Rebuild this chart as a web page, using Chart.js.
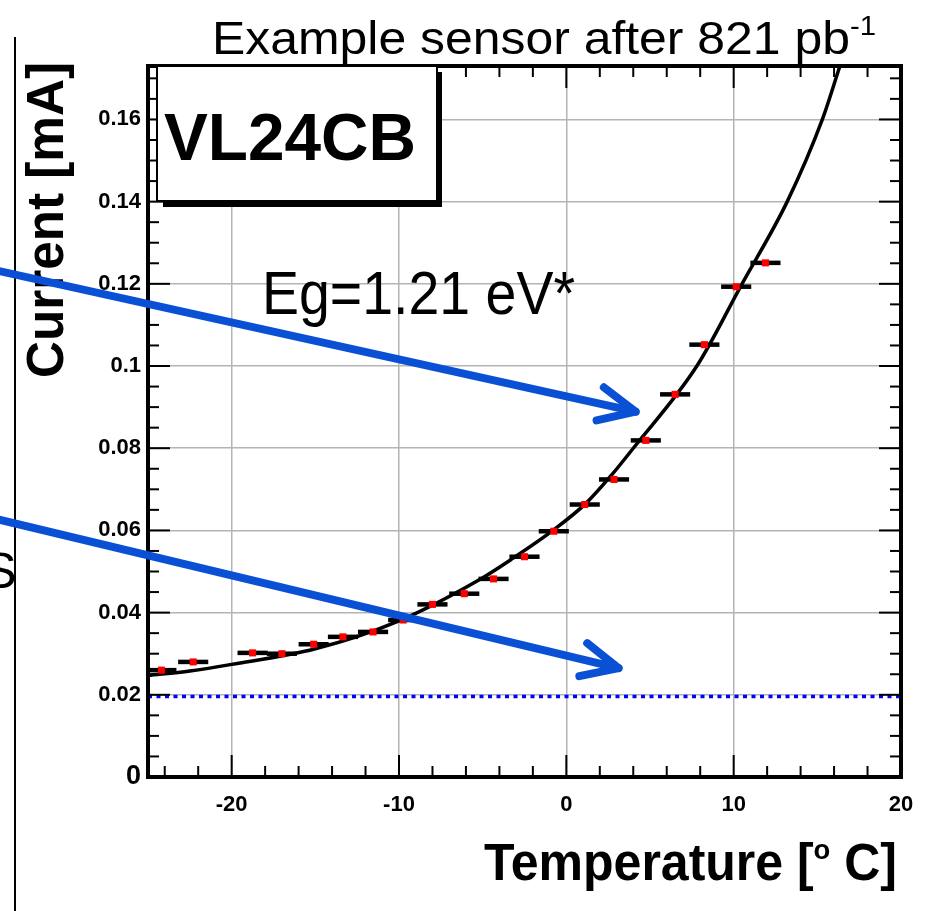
<!DOCTYPE html>
<html><head><meta charset="utf-8">
<script src="https://cdn.jsdelivr.net/npm/chart.js@4/dist/chart.umd.min.js"></script>
<style>html,body{margin:0;padding:0;background:#fff;}canvas{display:block;}</style>
</head><body>
<canvas id="c" width="930" height="911"></canvas>
<script>
// ---- data ----
const temperature = [-24.2, -22.3, -18.75, -17.0, -15.1, -13.35, -11.55, -9.75, -8.0, -6.1, -4.35, -2.5, -0.75, 1.1, 2.85, 4.75, 6.5, 8.25, 10.15, 11.9];
const current     = [0.0260, 0.0280, 0.0302, 0.0300, 0.0323, 0.0341, 0.0353, 0.0382, 0.0420, 0.0446, 0.0482, 0.0536, 0.0598, 0.0663, 0.0724, 0.0819, 0.0931, 0.1052, 0.1193, 0.1251];
const temperatureErr = [0.9, 0.9, 0.9, 0.9, 0.9, 0.9, 0.9, 0.9, 0.9, 0.9, 0.9, 0.9, 0.9, 0.9, 0.9, 0.9, 0.9, 0.9, 0.9, 0.9];
const fitTemperature = [-25, -22.5, -20, -15, -10, -5.2, -3.2, -0.8, 1.2, 2.75, 4.0, 7.8, 10.5, 13.2, 15.3, 16.35];
const fitCurrent     = [0.0247, 0.0258, 0.0274, 0.0312, 0.0380, 0.0480, 0.0532, 0.0600, 0.0667, 0.0737, 0.0800, 0.1000, 0.1200, 0.1400, 0.1600, 0.1730];
const baselineCurrent = 0.0196;
const xTickLabels = ['-20', '-10', '0', '10', '20'];
const yTickLabels = ['0', '0.02', '0.04', '0.06', '0.08', '0.1', '0.12', '0.14', '0.16'];
const arrowUpper = [[-34, 0.1232], [4.14, 0.0889]];
const arrowLower = [[-34, 0.0627], [3.12, 0.0265]];
const titleText = 'Example sensor after 821 pb';
const titleSup = '-1';
const labelText = 'VL24CB';
const gapText = 'Eg=1.21 eV*';
const xTitle = ['Temperature [', 'o', ' C]'];
const yTitle = 'Current [mA]';

const FONT = '"Liberation Sans", Arial, Helvetica, sans-serif';
const BLUE = '#0a50d4';

function drawRuns(ctx, runs, left, baseline, targetWidth) {
  let total = 0;
  runs.forEach(r => { ctx.font = r.font; r.w = ctx.measureText(r.text).width; total += r.w; });
  const s = targetWidth ? targetWidth / total : 1;
  ctx.save();
  ctx.translate(left, baseline);
  ctx.scale(s, 1);
  ctx.textBaseline = 'alphabetic';
  ctx.textAlign = 'left';
  let x = 0;
  runs.forEach(r => { ctx.font = r.font; ctx.fillText(r.text, x, r.dy || 0); x += r.w; });
  ctx.restore();
}

function drawArrow(ctx, chart, pts) {
  const xs = chart.scales.x, ys = chart.scales.y;
  const x0 = xs.getPixelForValue(pts[0][0]), y0 = ys.getPixelForValue(pts[0][1]);
  const x1 = xs.getPixelForValue(pts[1][0]), y1 = ys.getPixelForValue(pts[1][1]);
  const ang = Math.atan2(y1 - y0, x1 - x0);
  const L = 40, spread = 25 * Math.PI / 180;
  ctx.save();
  ctx.strokeStyle = BLUE; ctx.lineWidth = 8; ctx.lineCap = 'round'; ctx.lineJoin = 'round';
  ctx.beginPath(); ctx.moveTo(x0, y0); ctx.lineTo(x1, y1); ctx.stroke();
  ctx.beginPath();
  ctx.moveTo(x1 - L * Math.cos(ang - spread), y1 - L * Math.sin(ang - spread));
  ctx.lineTo(x1, y1);
  ctx.lineTo(x1 - L * Math.cos(ang + spread), y1 - L * Math.sin(ang + spread));
  ctx.stroke();
  ctx.restore();
}

const rootPlugin = {
  id: 'rootStyle',
  beforeDatasetsDraw(chart) {
    const ctx = chart.ctx, a = chart.chartArea, xs = chart.scales.x, ys = chart.scales.y;
    ctx.save();
    ctx.beginPath(); ctx.rect(a.left, a.top, a.right - a.left, a.bottom - a.top); ctx.clip();
    ctx.strokeStyle = '#000'; ctx.lineWidth = 4.5;
    temperature.forEach((t, i) => {
      const y = ys.getPixelForValue(current[i]);
      ctx.beginPath();
      ctx.moveTo(xs.getPixelForValue(t - temperatureErr[i]), y);
      ctx.lineTo(xs.getPixelForValue(t + temperatureErr[i]), y);
      ctx.stroke();
    });
    ctx.restore();
  },
  afterDraw(chart) {
    const ctx = chart.ctx, a = chart.chartArea, xs = chart.scales.x, ys = chart.scales.y;
    ctx.save();
    // tick marks inside on all four sides
    ctx.strokeStyle = '#000'; ctx.lineWidth = 2;
    const line = (x0, y0, x1, y1) => { ctx.beginPath(); ctx.moveTo(x0, y0); ctx.lineTo(x1, y1); ctx.stroke(); };
    for (let i = 0; i <= 22; i++) {
      const v = -24 + 2 * i;
      const px = xs.getPixelForValue(v);
      const len = (v % 10 === 0) ? 22 : 11;
      line(px, a.bottom, px, a.bottom - len);
      line(px, a.top, px, a.top + len);
    }
    for (let i = 0; i <= 34; i++) {
      const py = ys.getPixelForValue(i * 0.005);
      const len = (i % 4 === 0) ? 22 : 11;
      line(a.left, py, a.left + len, py);
      line(a.right, py, a.right - len, py);
    }
    // frame
    ctx.lineWidth = 4;
    ctx.strokeRect(a.left, a.top, a.right - a.left, a.bottom - a.top);

    // label box with shadow
    ctx.fillStyle = '#000';
    ctx.fillRect(163, 72, 279, 135);
    ctx.fillStyle = '#fff';
    ctx.fillRect(157, 66, 280, 135);
    ctx.lineWidth = 2; ctx.strokeStyle = '#000';
    ctx.strokeRect(157, 66, 280, 135);
    ctx.fillStyle = '#000';
    drawRuns(ctx, [{text: labelText, font: 'bold 66px ' + FONT}], 164, 160, 252);

    // title
    drawRuns(ctx, [
      {text: titleText, font: '46px ' + FONT},
      {text: titleSup, font: '27px ' + FONT, dy: -19}
    ], 212, 54, 664);

    // band-gap annotation
    drawRuns(ctx, [{text: gapText, font: '62px ' + FONT}], 262, 314, 313);

    // axis titles
    drawRuns(ctx, [
      {text: xTitle[0], font: 'bold 51px ' + FONT},
      {text: xTitle[1], font: 'bold 28px ' + FONT, dy: -21},
      {text: xTitle[2], font: 'bold 51px ' + FONT}
    ], 484, 880, 413);
    ctx.save();
    ctx.translate(63, 378);
    ctx.rotate(-Math.PI / 2);
    drawRuns(ctx, [{text: yTitle, font: 'bold 51px ' + FONT}], 0, 0, 316);
    ctx.restore();

    // slide fragments on the left
    ctx.font = '50px ' + FONT;
    const sw = ctx.measureText('S').width;
    ctx.fillText('S', 15 - sw * 0.95, 588);
    ctx.lineWidth = 2;
    line(15, 37, 15, 911);

    // arrows
    drawArrow(ctx, chart, arrowUpper);
    drawArrow(ctx, chart, arrowLower);
    ctx.restore();
  }
};

const tickFont = {family: FONT, weight: 'bold', size: 22};
new Chart(document.getElementById('c').getContext('2d'), {
  type: 'scatter',
  data: {
    datasets: [
      {
        label: 'measured',
        data: temperature.map((t, i) => ({x: t, y: current[i]})),
        pointStyle: 'rect', pointRadius: 5, backgroundColor: '#ff0000', borderColor: '#ff0000', borderWidth: 0,
        order: 0
      },
      {
        label: 'fit',
        type: 'line',
        data: fitTemperature.map((t, i) => ({x: t, y: fitCurrent[i]})),
        borderColor: '#000', borderWidth: 3.5, pointRadius: 0, fill: false,
        cubicInterpolationMode: 'monotone',
        order: 1
      },
      {
        label: 'baseline',
        type: 'line',
        data: [{x: -25, y: baselineCurrent}, {x: 20, y: baselineCurrent}],
        borderColor: '#0000ff', borderWidth: 3.5, borderDash: [4, 4.5], pointRadius: 0, fill: false,
        order: 2
      }
    ]
  },
  options: {
    responsive: false, animation: false, devicePixelRatio: 1,
    layout: {padding: {top: 66, right: 29, left: 0, bottom: 0}},
    plugins: {legend: {display: false}, tooltip: {enabled: false}, title: {display: false}},
    scales: {
      x: {
        type: 'linear', min: -25, max: 20,
        afterFit(s) { s.height = 134; },
        border: {display: false},
        grid: {color: '#b4b4b4', lineWidth: 1.5, drawTicks: false},
        ticks: {stepSize: 10, includeBounds: false, autoSkip: false, maxRotation: 0, padding: 15, color: '#000',
                font: tickFont, callback: (v, i) => xTickLabels[i]}
      },
      y: {
        type: 'linear', min: 0, max: 0.173,
        afterFit(s) { s.width = 148; },
        border: {display: false},
        grid: {color: '#b4b4b4', lineWidth: 1.5, drawTicks: false},
        ticks: {stepSize: 0.02, includeBounds: false, autoSkip: false, padding: 7, color: '#000',
                font: (c) => ({family: FONT, weight: 'bold', size: (c.tick && c.tick.value === 0) ? 27 : 22}),
                callback: (v, i) => yTickLabels[i]}
      }
    }
  },
  plugins: [rootPlugin]
});
</script>
</body></html>
